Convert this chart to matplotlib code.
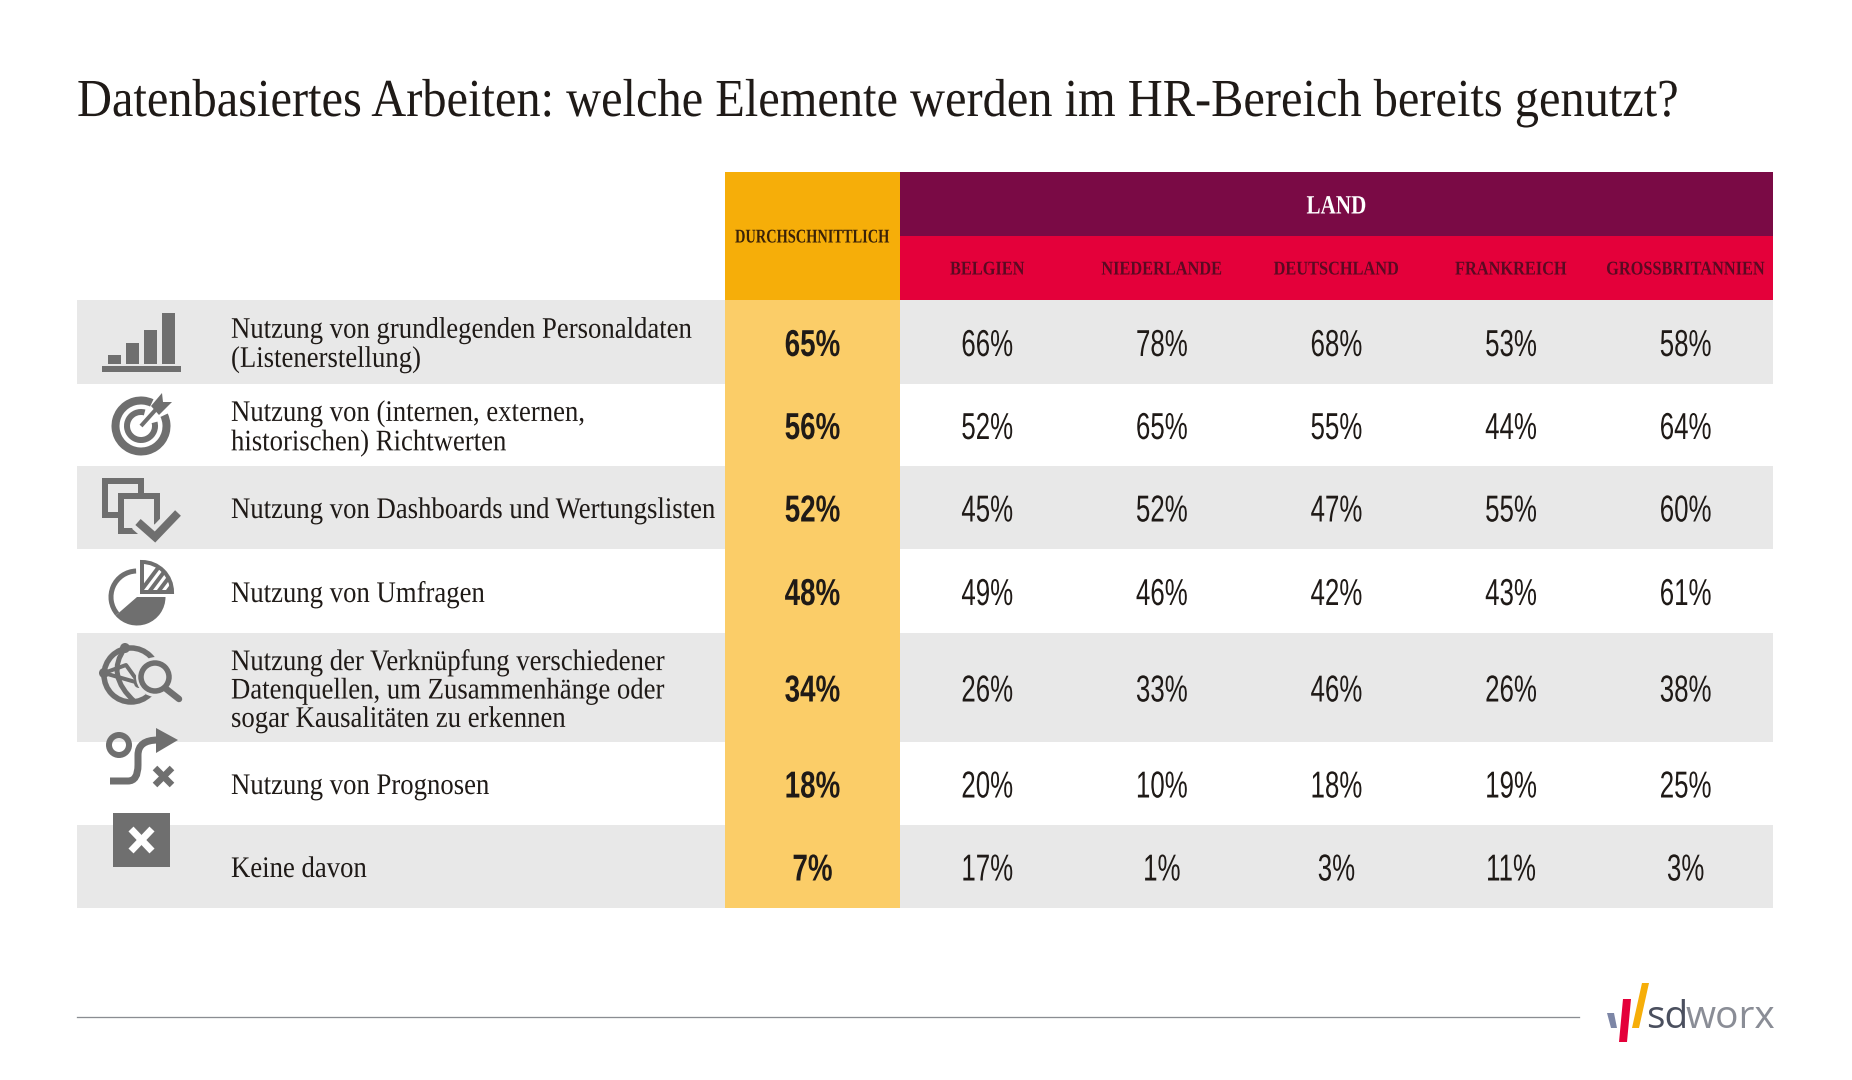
import matplotlib
matplotlib.use('Agg')
import matplotlib.pyplot as plt
from matplotlib.patches import Rectangle, Circle, Wedge, Polygon, PathPatch
from matplotlib.patheffects import AbstractPathEffect
from matplotlib.path import Path
from matplotlib.transforms import Affine2D

# Daten
title = "Datenbasiertes Arbeiten: welche Elemente werden im HR-Bereich bereits genutzt?"
row_labels = [
    "Nutzung von grundlegenden Personaldaten\n(Listenerstellung)",
    "Nutzung von (internen, externen,\nhistorischen) Richtwerten",
    "Nutzung von Dashboards und Wertungslisten",
    "Nutzung von Umfragen",
    "Nutzung der Verknüpfung verschiedener\nDatenquellen, um Zusammenhänge oder\nsogar Kausalitäten zu erkennen",
    "Nutzung von Prognosen",
    "Keine davon",
]
avg_header = "DURCHSCHNITTLICH"
group_header = "LAND"
countries = ["BELGIEN", "NIEDERLANDE", "DEUTSCHLAND", "FRANKREICH", "GROSSBRITANNIEN"]
average = [65, 56, 52, 48, 34, 18, 7]
belgien = [66, 52, 45, 49, 26, 20, 17]
niederlande = [78, 65, 52, 46, 33, 10, 1]
deutschland = [68, 55, 47, 42, 46, 18, 3]
frankreich = [53, 44, 55, 43, 26, 19, 11]
grossbritannien = [58, 64, 60, 61, 38, 25, 3]
country_values = [belgien, niederlande, deutschland, frankreich, grossbritannien]

# Layout in Pixeln
W, H = 1852, 1080
LEFT, AVG_L, AVG_R, RIGHT = 77, 725, 900, 1773
TOP, MID, HEAD_B = 172, 236, 300
row_edges = [300, 384, 466, 549, 633, 742, 825, 908]
LABEL_X = 231

DARK = '#1f1a17'
GREY = '#6f6f6f'
ROW = '#e8e8e8'
SERIF = 'Liberation Serif'
SANS = 'Liberation Sans'


class Condense(AbstractPathEffect):
    # Schmalschnitt: staucht die Glyphen horizontal um den Ankerpunkt
    def __init__(self, sx, x0):
        super().__init__()
        self.sx = sx
        self.x0 = x0

    def draw_path(self, renderer, gc, tpath, affine, rgbFace=None):
        t = affine + Affine2D().translate(-self.x0, 0).scale(self.sx, 1).translate(self.x0, 0)
        renderer.draw_path(gc, tpath, t, rgbFace)


fig = plt.figure(figsize=(W / 100, H / 100), dpi=100, facecolor='white')
ax = fig.add_axes([0, 0, 1, 1])
ax.set_xlim(0, W)
ax.set_ylim(H, 0)
ax.axis('off')


def put(x, y, s, sx=1.0, **kw):
    return ax.text(x, y, s, path_effects=[Condense(sx, x)], **kw)


put(LEFT, 116, title, sx=0.905, fontsize=38.5, family=SERIF, color=DARK, va='baseline', ha='left')

# Kopf
ax.add_patch(Rectangle((AVG_L, TOP), AVG_R - AVG_L, HEAD_B - TOP, fc='#f6ae09', ec='none'))
ax.add_patch(Rectangle((AVG_R, TOP), RIGHT - AVG_R, MID - TOP, fc='#7a0a45', ec='none'))
ax.add_patch(Rectangle((AVG_R, MID), RIGHT - AVG_R, HEAD_B - MID, fc='#e4003a', ec='none'))
put((AVG_L + AVG_R) / 2, 238, avg_header, sx=0.74, fontsize=14, family=SERIF, weight='bold',
    color='#3a2208', ha='center', va='center')
put((AVG_R + RIGHT) / 2, 207, group_header, sx=0.8, fontsize=19, family=SERIF, weight='bold',
    color='white', ha='center', va='center')

col_w = (RIGHT - AVG_R) / len(countries)
for i, name in enumerate(countries):
    put(AVG_R + col_w * (i + 0.5), 270, name, sx=0.84, fontsize=14, family=SERIF, weight='bold',
        color='#5a0a22', ha='center', va='center')

# Zeilen
for r, label in enumerate(row_labels):
    y0, y1 = row_edges[r], row_edges[r + 1]
    yc = (y0 + y1) / 2
    if r % 2 == 0:
        ax.add_patch(Rectangle((LEFT, y0), RIGHT - LEFT, y1 - y0, fc=ROW, ec='none'))
    ax.add_patch(Rectangle((AVG_L, y0), AVG_R - AVG_L, y1 - y0, fc='#fbcd68', ec='none', zorder=2))
    put(LABEL_X, yc + 3.5, label, sx=0.895, fontsize=21.5, family=SERIF, color=DARK, ha='left', va='center',
        linespacing=1.12, zorder=3)
    put((AVG_L + AVG_R) / 2, yc, f"{average[r]}%", sx=0.74, fontsize=27, family=SANS, weight='bold',
        color=DARK, ha='center', va='center_baseline', zorder=3)
    for c, vals in enumerate(country_values):
        cx = AVG_R + col_w * (c + 0.5)
        put(cx, yc, f"{vals[r]}%", sx=0.69, fontsize=27, family=SANS,
            color=DARK, ha='center', va='center_baseline', zorder=3)


def px(v):
    # Pixel in Punkte fuer Linienbreiten
    return v * 72 / 100


# Icon 1: Balken
ax.add_patch(Rectangle((102, 366), 79, 6, fc=GREY, ec='none', zorder=4))
for x, top in [(108, 355), (126, 343), (144, 330), (162, 313)]:
    ax.add_patch(Rectangle((x, top), 12.5, 364 - top, fc=GREY, ec='none', zorder=4))

# Icon 2: Zielscheibe (Winkel laufen wegen der gedrehten y-Achse im Uhrzeigersinn)
cx, cy = 141, 426
ax.add_patch(Wedge((cx, cy), 29.5, -25, 295, width=8, fc=GREY, ec='none', zorder=4))
ax.add_patch(Wedge((cx, cy), 17, -15, 285, width=6, fc=GREY, ec='none', zorder=4))
ax.plot([cx, cx + 18], [cy, cy - 20], color=GREY, lw=px(4), zorder=6, solid_capstyle='butt')
ax.add_patch(Polygon([(cx + 10, cy - 20), (cx + 21, cy - 33), (cx + 22, cy - 24),
                      (cx + 31, cy - 24), (cx + 18, cy - 11)], fc=GREY, ec='none', zorder=6))

# Icon 3: Dashboards mit Haken
ax.add_patch(Rectangle((105, 481), 36, 34, fc='none', ec=GREY, lw=px(6), zorder=4))
ax.add_patch(Rectangle((121, 496), 36, 35, fc=ROW, ec=GREY, lw=px(6), zorder=5))
ax.plot([138, 155, 178], [522, 537, 513], color=ROW, lw=px(18), zorder=6, solid_capstyle='butt')
ax.plot([138, 155, 178], [522, 537, 513], color=GREY, lw=px(8), zorder=7, solid_capstyle='butt',
        solid_joinstyle='miter')

# Icon 4: Tortendiagramm
cx, cy = 137, 597
ax.add_patch(Wedge((cx, cy), 28.5, 139, 268, width=5, fc=GREY, ec='none', zorder=4))
ax.add_patch(Wedge((cx, cy), 28.5, 0, 139, fc=GREY, ec='none', zorder=4))
hx, hy = 142, 592
slice_frame = Wedge((hx, hy), 30, 270, 360, fc='white', ec=GREY, lw=px(4), zorder=5)
ax.add_patch(slice_frame)
for dx in (4, 13, 22, 31):
    line, = ax.plot([hx + dx - 6, hx + dx + 18], [hy, hy - 32], color=GREY, lw=px(4), zorder=6,
                    solid_capstyle='butt')
    line.set_clip_path(slice_frame)

# Icon 5: Globus mit Lupe
cx, cy = 131, 675
ax.add_patch(Circle((cx, cy), 27, fc='none', ec=GREY, lw=px(5.5), zorder=4))
ax.add_patch(PathPatch(Path([(cx - 6, cy - 27), (cx - 26, cy), (cx + 4, cy + 27)],
                            [Path.MOVETO, Path.CURVE3, Path.CURVE3]),
                       fc='none', ec=GREY, lw=px(5), zorder=4))
ax.plot([cx - 27, cx - 5, cx + 8], [cy - 2, cy - 10, cy + 8], color=GREY, lw=px(4), zorder=4)
ax.plot([cx - 27, cx + 8, cx + 18], [cy - 2, cy + 8, cy + 20], color=GREY, lw=px(4), zorder=4)
for nx, ny, nr in [(cx - 6, cy - 27, 5), (cx - 27, cy - 2, 5), (cx + 8, cy + 8, 5)]:
    ax.add_patch(Circle((nx, ny), nr, fc=GREY, ec='none', zorder=4))
ax.add_patch(Circle((156, 677), 20, fc=ROW, ec='none', zorder=5))
ax.add_patch(Circle((155, 677), 14, fc=ROW, ec=GREY, lw=px(5.5), zorder=6))
ax.plot([165, 179], [688, 699], color=GREY, lw=px(6.5), zorder=6, solid_capstyle='round')

# Icon 6: Route
ax.add_patch(Circle((119, 745), 10, fc='none', ec=GREY, lw=px(6), zorder=6))
route = Path([(110, 781), (128, 781), (138, 781), (138, 765), (138, 755), (138, 740), (158, 740)],
             [Path.MOVETO, Path.LINETO, Path.CURVE3, Path.CURVE3, Path.LINETO, Path.CURVE3, Path.CURVE3])
ax.add_patch(PathPatch(route, fc='none', ec=GREY, lw=px(7), zorder=6))
ax.add_patch(Polygon([(156, 728), (178, 740), (156, 753)], fc=GREY, ec='none', zorder=6))
ax.plot([155, 172], [768, 785], color=GREY, lw=px(6.5), zorder=6, solid_capstyle='butt')
ax.plot([155, 172], [785, 768], color=GREY, lw=px(6.5), zorder=6, solid_capstyle='butt')

# Icon 7: Kreuz im Quadrat
ax.add_patch(Rectangle((113, 813), 57, 54, fc=GREY, ec='none', zorder=6))
ax.plot([131, 152], [829, 851], color='white', lw=px(7), zorder=7, solid_capstyle='butt')
ax.plot([131, 152], [851, 829], color='white', lw=px(7), zorder=7, solid_capstyle='butt')

# Fusszeile und Logo
ax.plot([LEFT, 1579], [1017, 1017], color='#8a8d92', lw=px(1.3))
ax.add_patch(Polygon([(1607, 1013), (1614, 1013), (1617, 1028), (1611, 1028)], fc='#7d86a6', ec='none'))
ax.add_patch(Polygon([(1623, 999), (1631, 999), (1627, 1042), (1619, 1042)], fc='#e4003a', ec='none'))
ax.add_patch(Polygon([(1642, 983), (1649, 983), (1639, 1028), (1632, 1028)], fc='#f6ae09', ec='none'))
sd = ax.text(1646, 1028, "sd", fontsize=28, family='Open Sans', color='#4a4f5e', va='baseline', ha='left')
sd_end = sd.get_window_extent(fig.canvas.get_renderer()).x1
ax.text(sd_end - 3, 1028, "worx", fontsize=28, family='Open Sans', color='#8a8d96', va='baseline', ha='left')

fig.savefig('out.png', dpi=100, facecolor='white')
